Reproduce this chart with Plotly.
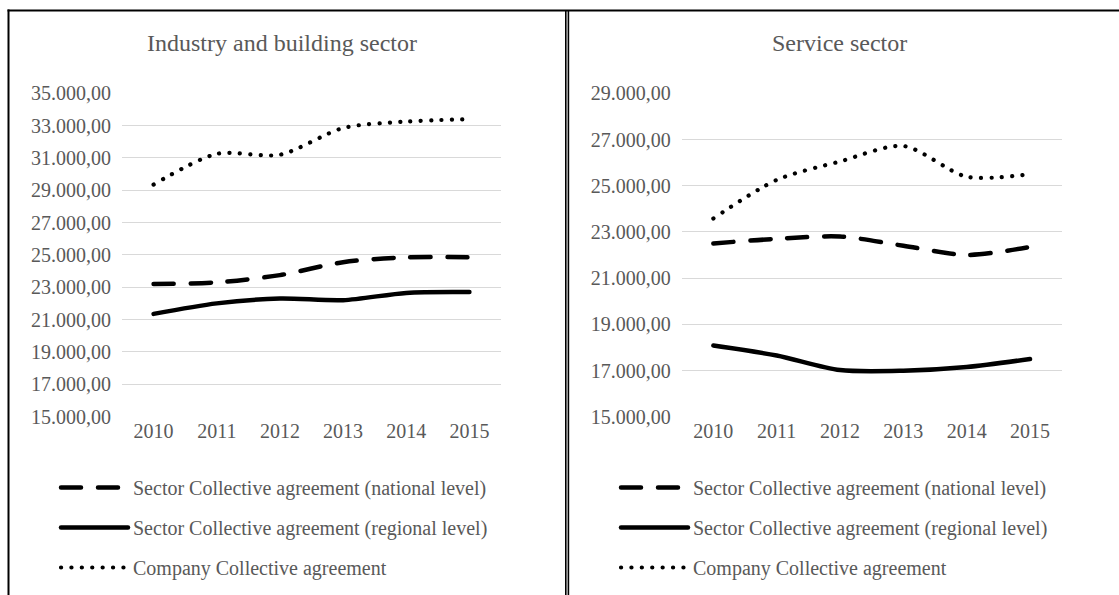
import plotly.graph_objects as go

# Annual values per sector and agreement type
years = ["2010", "2011", "2012", "2013", "2014", "2015"]

industry_national = [23200, 23300, 23750, 24550, 24850, 24850]
industry_regional = [21350, 22000, 22300, 22200, 22650, 22700]
industry_company = [29350, 31250, 31200, 32850, 33250, 33400]

service_national = [22500, 22700, 22800, 22400, 22000, 22350]
service_regional = [18080, 17650, 17020, 16990, 17150, 17500]
service_company = [23580, 25250, 26050, 26720, 25390, 25500]

series_names = [
    "Sector Collective agreement (national level)",
    "Sector Collective agreement (regional level)",
    "Company Collective agreement",
]
left_ticks = [15000, 17000, 19000, 21000, 23000, 25000, 27000, 29000, 31000, 33000, 35000]
right_ticks = [15000, 17000, 19000, 21000, 23000, 25000, 27000, 29000]

W, H = 1119, 595
FONT = "Liberation Serif, Times New Roman, serif"
TEXT = "#595959"
GRID = "#d9d9d9"

styles = [
    dict(color="black", width=4.5, dash="20px,17px"),
    dict(color="black", width=4.5, dash="solid"),
    dict(color="black", width=4.2, dash="0.1px,10.3px"),
]

fig = go.Figure()

panels = [
    ("x", "y", "legend", [industry_national, industry_regional, industry_company]),
    ("x2", "y2", "legend2", [service_national, service_regional, service_company]),
]
for xa, ya, lg, data in panels:
    for i, (name, vals) in enumerate(zip(series_names, data)):
        fig.add_trace(go.Scatter(
            x=years, y=vals, name=name, mode="lines",
            line=dict(shape="spline", smoothing=0.8, **styles[i]),
            xaxis=xa, yaxis=ya, legend=lg, legendgroup=f"{lg}-{i}",
            hoverinfo="skip",
        ))

def px_x(v):
    return v / W

def px_y(v):
    return 1 - v / H

axis_font = dict(family=FONT, size=20, color=TEXT)
xcommon = dict(type="category", range=[-0.5, 5.5], showgrid=False, showline=False,
               zeroline=False, ticks="", tickfont=axis_font, fixedrange=True,
               automargin=False)
ycommon = dict(showgrid=True, gridcolor=GRID, gridwidth=1.3, showline=False,
               zeroline=False, ticks="", tickfont=axis_font, tickformat=",.2f",
               ticklabelstandoff=10, fixedrange=True, automargin=False)

legend_common = dict(
    font=dict(family=FONT, size=20, color=TEXT),
    bgcolor="rgba(0,0,0,0)", itemwidth=67, tracegroupgap=11,
    xanchor="left", yanchor="top", orientation="v",
)

fig.update_layout(
    width=W, height=H,
    margin=dict(l=0, r=0, t=0, b=0, autoexpand=False),
    paper_bgcolor="white", plot_bgcolor="white",
    separators=",.",
    showlegend=True,
    xaxis=dict(domain=[px_x(122), px_x(501)], anchor="y", **xcommon),
    yaxis=dict(domain=[px_y(416.5), px_y(93.3)], range=[15000, 35000],
               tickvals=left_ticks, anchor="x", **ycommon),
    xaxis2=dict(domain=[px_x(681.7), px_x(1061.7)], anchor="y2", **xcommon),
    yaxis2=dict(domain=[px_y(416.7), px_y(93.3)], range=[15000, 29000],
                tickvals=right_ticks, anchor="x2", **ycommon),
    legend=dict(x=px_x(56), y=px_y(468), **legend_common),
    legend2=dict(x=px_x(616), y=px_y(468), **legend_common),
    annotations=[
        dict(text="Industry and building sector", x=px_x(282), y=px_y(43),
             xref="paper", yref="paper", xanchor="center", yanchor="middle",
             showarrow=False, font=dict(family=FONT, size=24, color=TEXT)),
        dict(text="Service sector", x=px_x(840), y=px_y(43),
             xref="paper", yref="paper", xanchor="center", yanchor="middle",
             showarrow=False, font=dict(family=FONT, size=24, color=TEXT)),
    ],
    shapes=[
        # panel frames
        dict(type="line", xref="paper", yref="paper", x0=px_x(8.5), x1=px_x(8.5),
             y0=0, y1=px_y(9.5), line=dict(color="black", width=2)),
        dict(type="line", xref="paper", yref="paper", x0=px_x(7.5), x1=1,
             y0=px_y(10.5), y1=px_y(10.5), line=dict(color="black", width=2)),
        dict(type="line", xref="paper", yref="paper", x0=px_x(565.8), x1=px_x(565.8),
             y0=0, y1=px_y(10.5), line=dict(color="black", width=1.6)),
        dict(type="line", xref="paper", yref="paper", x0=px_x(568.4), x1=px_x(568.4),
             y0=0, y1=px_y(10.5), line=dict(color="black", width=1.6)),
    ],
)

# Round caps so the dashes and dots come out rounded
post = """
var gd = document.getElementById('{plot_id}');
function roundCaps() {
  gd.querySelectorAll('.scatterlayer path.js-line, .legendlines path').forEach(function (p) {
    p.style.strokeLinecap = 'round';
  });
}
roundCaps();
gd.on('plotly_afterplot', roundCaps);
"""

fig.write_html("out.html", post_script=post)
